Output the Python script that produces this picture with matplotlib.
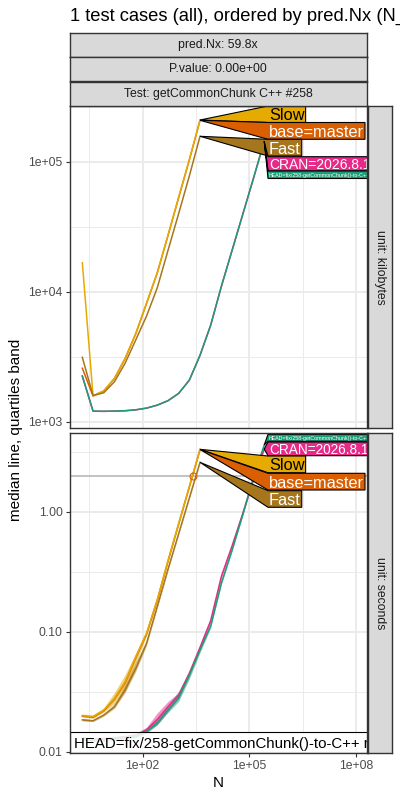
import numpy as np
import matplotlib
matplotlib.use("Agg")
import matplotlib.pyplot as plt
from matplotlib.patches import Polygon, Rectangle
from matplotlib.ticker import NullFormatter

plt.rcParams['font.family'] = ['Liberation Sans', 'DejaVu Sans']

# ---- text ----
title = "1 test cases (all), ordered by pred.Nx (N_"
strip_texts = ["pred.Nx: 59.8x", "P.value: 0.00e+00", "Test: getCommonChunk C++ #258"]
unit_texts = ["unit: kilobytes", "unit: seconds"]
bottom_note = "HEAD=fix/258-getCommonChunk()-to-C++ r"

# ---- data ----
N_short = [2, 4, 8, 16, 32, 64, 128, 256, 512, 1024, 2048, 4096]
N_long = [2, 4, 8, 16, 32, 64, 128, 256, 512, 1024, 2048, 4096,
          8192, 16384, 32768, 65536, 131072, 262144]

# kilobytes (median)
slow_kb = [16700, 1585, 1730, 2160, 3080, 4790, 8170, 14000, 27100, 53200, 103500, 209000]
base_kb = [2580, 1580, 1720, 2150, 3060, 4760, 8120, 13900, 26900, 52800, 103000, 208000]
fast_kb = [3130, 1590, 1670, 2030, 2820, 4270, 6490, 10700, 20700, 39800, 77600, 156700]
head_kb = [2250, 1208, 1203, 1208, 1216, 1236, 1274, 1343, 1452, 1653, 2090, 3250,
           5550, 11070, 20900, 39600, 75000, 144000]
cran_kb = [2240, 1205, 1203, 1207, 1215, 1235, 1272, 1340, 1450, 1650, 2085, 3240,
           5530, 11000, 20800, 39400, 74500, 143000]

# seconds (median, quartiles)
slow_s = [0.0200, 0.0196, 0.0222, 0.0279, 0.0383, 0.0619, 0.097, 0.184, 0.389, 0.794, 1.62, 3.31]
slow_s_lo = [0.0195, 0.0190, 0.0214, 0.0250, 0.0320, 0.0550, 0.093, 0.179, 0.381, 0.781, 1.60, 3.27]
slow_s_hi = [0.0206, 0.0203, 0.0232, 0.0312, 0.0440, 0.0665, 0.101, 0.189, 0.397, 0.808, 1.65, 3.36]
base_s = [0.0198, 0.0194, 0.0220, 0.0276, 0.0378, 0.0612, 0.096, 0.183, 0.386, 0.790, 1.61, 3.30]
base_s_lo = [0.0195, 0.0191, 0.0216, 0.0268, 0.0362, 0.0590, 0.094, 0.180, 0.381, 0.782, 1.60, 3.27]
base_s_hi = [0.0201, 0.0197, 0.0224, 0.0284, 0.0395, 0.0635, 0.098, 0.186, 0.391, 0.798, 1.62, 3.33]
fast_s = [0.0184, 0.0181, 0.0202, 0.0237, 0.0327, 0.0495, 0.080, 0.162, 0.330, 0.654, 1.30, 2.58]
fast_s_lo = [0.0180, 0.0178, 0.0198, 0.0230, 0.0312, 0.0470, 0.077, 0.158, 0.324, 0.645, 1.28, 2.55]
fast_s_hi = [0.0189, 0.0185, 0.0207, 0.0248, 0.0360, 0.0560, 0.084, 0.166, 0.336, 0.662, 1.32, 2.61]
head_s = [0.0128, 0.0125, 0.0126, 0.0128, 0.0131, 0.0134, 0.0147, 0.0173, 0.0222, 0.0279, 0.0436,
          0.0703, 0.112, 0.255, 0.48, 0.95, 1.95, 3.6]
head_s_lo = [0.0124, 0.0121, 0.0122, 0.0124, 0.0127, 0.0130, 0.0142, 0.0167, 0.0212, 0.0262, 0.0405,
             0.0670, 0.108, 0.248, 0.47, 0.93, 1.92, 3.55]
head_s_hi = [0.0132, 0.0129, 0.0130, 0.0133, 0.0136, 0.0140, 0.0156, 0.0185, 0.0245, 0.0320, 0.0475,
             0.0735, 0.116, 0.262, 0.49, 0.97, 1.98, 3.65]
cran_s = [0.0130, 0.0127, 0.0128, 0.0130, 0.0133, 0.0137, 0.0152, 0.0185, 0.0236, 0.0295, 0.045,
          0.074, 0.124, 0.29, 0.52, 0.97, 1.85, 3.33]
cran_s_lo = [0.0126, 0.0123, 0.0124, 0.0126, 0.0129, 0.0133, 0.0146, 0.0168, 0.0215, 0.0280, 0.0425,
             0.071, 0.119, 0.28, 0.51, 0.95, 1.82, 3.29]
cran_s_hi = [0.0134, 0.0131, 0.0132, 0.0134, 0.0137, 0.0142, 0.0160, 0.0210, 0.0262, 0.0310, 0.0470,
             0.077, 0.129, 0.30, 0.53, 0.99, 1.88, 3.37]

seconds_limit = 2.0

labels = {"slow": "Slow", "base": "base=master", "fast": "Fast",
          "cran": "CRAN=2026.8.1", "head": "HEAD=fix/258-getCommonChunk()-to-C++"}
colors = {"slow": "#E6AB02", "base": "#D95F02", "fast": "#A6761D",
          "cran": "#E7298A", "head": "#1B9E77"}
text_colors = {"slow": "black", "base": "white", "fast": "white",
               "cran": "white", "head": "white"}

kb_series = {"base": (N_short, base_kb), "slow": (N_short, slow_kb), "fast": (N_short, fast_kb),
             "cran": (N_long, cran_kb), "head": (N_long, head_kb)}
s_series = {"base": (N_short, base_s, base_s_lo, base_s_hi),
            "slow": (N_short, slow_s, slow_s_lo, slow_s_hi),
            "fast": (N_short, fast_s, fast_s_lo, fast_s_hi),
            "cran": (N_long, cran_s, cran_s_lo, cran_s_hi),
            "head": (N_long, head_s, head_s_lo, head_s_hi)}

# ---- layout (pixels) ----
W, H = 400, 800
PL, PR = 69.5, 367.0
TOP = (106.0, 428.0)
BOT = (433.0, 753.0)

fig = plt.figure(figsize=(W / 100, H / 100), dpi=100)
renderer = fig.canvas.get_renderer()


def add_ax(x0, y0, x1, y1):
    return fig.add_axes([x0 / W, 1 - y1 / H, (x1 - x0) / W, (y1 - y0) / H])


def px_to_axes(panel, x, y):
    return ((x - PL) / (PR - PL), (panel[1] - y) / (panel[1] - panel[0]))


def style_panel(ax, ylim, yticks, yticklabels, yminor, show_x):
    ax.set_xscale('log')
    ax.set_yscale('log')
    ax.set_xlim(10 ** -0.06, 10 ** 8.31)
    ax.set_ylim(*ylim)
    ax.set_xticks([1e2, 1e5, 1e8])
    ax.set_xticklabels(["1e+02", "1e+05", "1e+08"])
    ax.set_xticks([10 ** 0.5, 10 ** 3.5, 10 ** 6.5], minor=True)
    ax.set_yticks(yticks)
    ax.set_yticklabels(yticklabels)
    ax.set_yticks(yminor, minor=True)
    ax.xaxis.set_minor_formatter(NullFormatter())
    ax.yaxis.set_minor_formatter(NullFormatter())
    ax.grid(which='major', color='#EBEBEB', lw=1.4)
    ax.grid(which='minor', color='#EBEBEB', lw=0.7)
    ax.set_axisbelow(True)
    ax.tick_params(which='minor', length=0)
    ax.tick_params(which='major', length=2.75, width=0.8, color='#333333',
                   labelcolor='#4D4D4D', labelsize=8.8, pad=2.2)
    if not show_x:
        ax.tick_params(axis='x', which='major', length=0, labelbottom=False)
    for s in ax.spines.values():
        s.set_color('#333333')
        s.set_linewidth(1.0)
        s.set_zorder(8)


def direct_label(ax, panel, key, N, vals, y0, y1, size):
    tip = (ax.transData + ax.transAxes.inverted()).transform((N[-1], vals[-1]))
    xl = 268.0
    fpx = size * 100 / 72
    tx, ty = px_to_axes(panel, xl + 1, (y0 + y1) / 2 + 0.716 * fpx / 2)
    t = ax.text(tx, ty, labels[key], transform=ax.transAxes, ha='left', va='baseline',
                fontsize=size, color=text_colors[key], zorder=7, clip_on=True)
    w = t.get_window_extent(renderer).width
    xr = xl + w + 2
    pts = [tip, px_to_axes(panel, xl, y0), px_to_axes(panel, xr, y0),
           px_to_axes(panel, xr, y1), px_to_axes(panel, xl, y1)]
    ax.add_patch(Polygon(pts, closed=True, transform=ax.transAxes, facecolor=colors[key],
                         edgecolor='black', lw=0.8, zorder=6))


# ---- top panel: kilobytes ----
ax1 = add_ax(PL, TOP[0], PR, TOP[1])
style_panel(ax1, (10 ** 2.952, 10 ** 5.428), [1e3, 1e4, 1e5], ["1e+03", "1e+04", "1e+05"],
            [10 ** 3.5, 10 ** 4.5], False)
for key in ["base", "slow", "fast", "cran", "head"]:
    N, v = kb_series[key]
    ax1.plot(N, v, color=colors[key], lw=1.1, zorder=3)

top_stack = [("slow", 106.0, 122.5, 11.8), ("base", 122.5, 139.3, 11.8), ("fast", 139.3, 156.0, 11.8),
             ("cran", 156.7, 171.0, 10.0), ("head", 171.0, 178.5, 3.75)]
for key, y0, y1, size in top_stack:
    N, v = kb_series[key]
    direct_label(ax1, TOP, key, N, v, y0, y1, size)

# ---- bottom panel: seconds ----
ax2 = add_ax(PL, BOT[0], PR, BOT[1])
style_panel(ax2, (10 ** -2.011, 10 ** 0.656), [0.01, 0.1, 1.0], ["0.01", "0.10", "1.00"],
            [10 ** -1.5, 10 ** -0.5, 10 ** 0.5], True)
ax2.axhline(seconds_limit, color='#BDBDBD', lw=1.3, zorder=1.5)
for key in ["base", "slow", "fast", "cran", "head"]:
    N, v, lo, hi = s_series[key]
    ax2.fill_between(N, lo, hi, color=colors[key], alpha=0.5, lw=0, zorder=2)
    ax2.plot(N, v, color=colors[key], lw=1.1, zorder=3)

# predicted N where base=master reaches the seconds limit
pred_N = 10 ** np.interp(np.log10(seconds_limit), np.log10(base_s[2:]), np.log10(N_short[2:]))
ax2.plot([pred_N], [seconds_limit], 'o', mfc='none', mec=colors["base"], ms=5, mew=0.8, zorder=4)

bot_stack = [("head", 434.3, 441.3, 3.75), ("cran", 442.0, 455.7, 9.8),
             ("slow", 456.0, 472.7, 11.8), ("base", 473.3, 490.0, 11.8), ("fast", 490.7, 507.3, 11.8)]
for key, y0, y1, size in bot_stack:
    N, v = s_series[key][0], s_series[key][1]
    direct_label(ax2, BOT, key, N, v, y0, y1, size)

# note box at the bottom left
bx0, by0 = px_to_axes(BOT, 70.0, 753.3)
bx1, by1 = px_to_axes(BOT, 420.0, 732.3)
ax2.add_patch(Rectangle((bx0, by0), bx1 - bx0, by1 - by0, transform=ax2.transAxes,
                        facecolor=(1, 1, 1, 0.85), edgecolor='black', lw=0.8, zorder=5))
nx, ny = px_to_axes(BOT, 74.0, 748.3)
ax2.text(nx, ny, bottom_note, transform=ax2.transAxes, ha='left', va='baseline',
         fontsize=10.8, color='black', zorder=7, clip_on=True)

ax2.set_xlabel("N", fontsize=11, color='black', labelpad=3)

# ---- strips ----
strip_rows = [(33.3, 56.7), (57.3, 81.0), (81.7, 105.5)]
for (y0, y1), txt in zip(strip_rows, strip_texts):
    s = add_ax(PL, y0, PR, y1)
    s.set_facecolor('#D9D9D9')
    s.set_xticks([])
    s.set_yticks([])
    for sp in s.spines.values():
        sp.set_color('#333333')
        sp.set_linewidth(1.0)
    s.text(0.5, 0.5, txt, ha='center', va='center', fontsize=8.8, color='#1A1A1A',
           transform=s.transAxes)

for (y0, y1), txt in zip([TOP, BOT], unit_texts):
    s = add_ax(368.0, y0, 392.0, y1)
    s.set_facecolor('#D9D9D9')
    s.set_xticks([])
    s.set_yticks([])
    for sp in s.spines.values():
        sp.set_color('#333333')
        sp.set_linewidth(1.0)
    s.text(0.5, 0.5, txt, ha='center', va='center', fontsize=8.8, color='#1A1A1A',
           rotation=270, transform=s.transAxes)

fig.text(70 / W, 1 - 16.5 / H, title, ha='left', va='center', fontsize=13.2, color='black')
fig.text(16 / W, 1 - 429.5 / H, "median line, quartiles band", ha='center', va='center',
         rotation=90, fontsize=11, color='black')

fig.savefig("out.png", dpi=100)
